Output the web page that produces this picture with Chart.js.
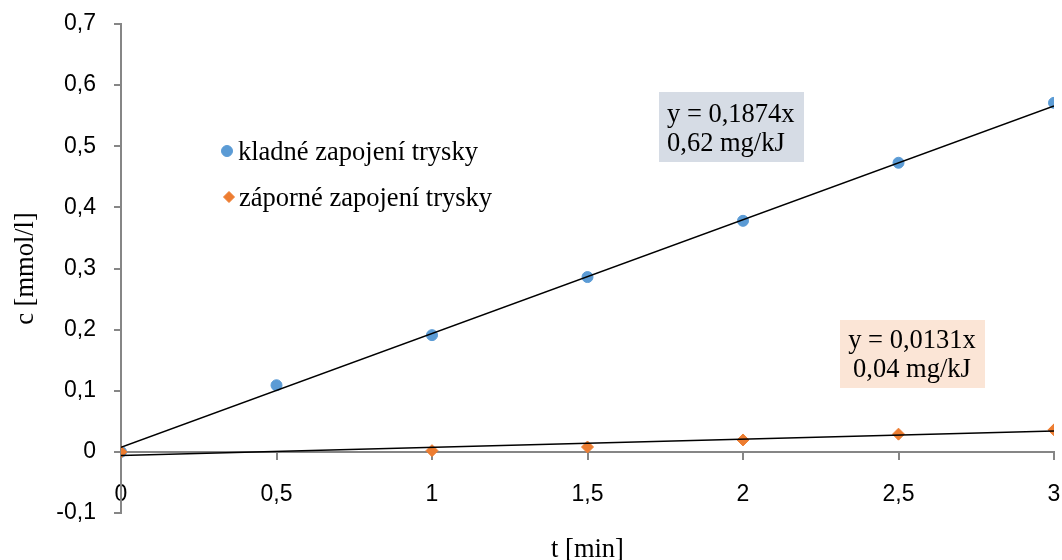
<!DOCTYPE html>
<html>
<head>
<meta charset="utf-8">
<script src="https://cdn.jsdelivr.net/npm/chart.js@4.4.1/dist/chart.umd.min.js"></script>
<style>
  html, body { margin: 0; padding: 0; background: #ffffff; }
  #wrap { width: 1062px; height: 560px; position: relative; }
</style>
</head>
<body>
<div id="wrap"><canvas id="c"></canvas></div>
<script>
// ---- data ----
const timeValues = [0, 0.5, 1, 1.5, 2, 2.5, 3];
const positiveValues = [0, 0.109, 0.191, 0.286, 0.378, 0.473, 0.571];
const negativeValues = [0, null, 0.002, 0.008, 0.0195, 0.029, 0.036];
const trendX = [0, 3];
const positiveTrend = [0.0075, 0.566];
const negativeTrend = [-0.006, 0.034];
const seriesNames = ['kladné zapojení trysky', 'záporné zapojení trysky'];
const positiveLabel = ['y = 0,1874x', '0,62 mg/kJ'];
const negativeLabel = ['y = 0,0131x', '0,04 mg/kJ'];
const xAxisTitle = 't [min]';
const yAxisTitle = 'c [mmol/l]';
const xMin = 0, xMax = 3, xStep = 0.5;
const yMin = -0.1, yMax = 0.7, yStep = 0.1;

const BLUE = '#5B9BD5';
const ORANGE = '#ED7D31';
const AXIS = '#868686';
const SERIF = '"Liberation Serif", "Times New Roman", serif';
const SANS = '"Liberation Sans", Arial, sans-serif';

function toPoints(xs, ys) {
  return xs.map((x, i) => ({ x: x, y: ys[i] }));
}
function fmt(v) {
  const r = Math.round(v * 10) / 10;
  return String(r).replace('.', ',');
}

const overlayPlugin = {
  id: 'overlay',
  afterDatasetsDraw(chart) {
    const ctx = chart.ctx;
    ctx.save();
    // legend (inside plot)
    const legendItems = [
      { name: seriesNames[0], style: 'circle', color: BLUE, r: 5.5, x: 227, y: 151, tx: 238, ty: 160 },
      { name: seriesNames[1], style: 'rectRot', color: ORANGE, r: 5.5, x: 229, y: 197, tx: 239, ty: 206 }
    ];
    legendItems.forEach(it => {
      ctx.fillStyle = it.color;
      ctx.strokeStyle = it.color;
      ctx.lineWidth = 1;
      Chart.helpers.drawPoint(ctx, { pointStyle: it.style, radius: it.r, borderWidth: 1, rotation: 0 }, it.x, it.y);
      ctx.fillStyle = '#000';
      ctx.font = '26.5px ' + SERIF;
      ctx.textAlign = 'left';
      ctx.textBaseline = 'alphabetic';
      ctx.fillText(it.name, it.tx, it.ty);
    });
    // trendline labels
    ctx.fillStyle = '#D6DCE5';
    ctx.fillRect(659, 92, 145, 70);
    ctx.fillStyle = '#FBE5D6';
    ctx.fillRect(840, 320, 145, 68);
    ctx.fillStyle = '#000';
    ctx.font = '26.5px ' + SERIF;
    ctx.textAlign = 'left';
    ctx.fillText(positiveLabel[0], 667, 122);
    ctx.fillText(positiveLabel[1], 667, 151);
    ctx.textAlign = 'center';
    ctx.fillText(negativeLabel[0], 912, 348);
    ctx.fillText(negativeLabel[1], 912, 377);
    ctx.restore();
  },
  afterDraw(chart) {
    const ctx = chart.ctx;
    const area = chart.chartArea;
    ctx.save();
    ctx.fillStyle = '#000';
    ctx.font = '26.5px ' + SERIF;
    ctx.textAlign = 'center';
    ctx.textBaseline = 'middle';
    ctx.fillText(xAxisTitle, (area.left + area.right) / 2, 550);
    ctx.translate(26, (area.top + area.bottom) / 2);
    ctx.rotate(-Math.PI / 2);
    ctx.fillText(yAxisTitle, 0, 0);
    ctx.restore();
  }
};

new Chart(document.getElementById('c'), {
  type: 'scatter',
  data: {
    datasets: [
      {
        label: seriesNames[0] + ' trend',
        type: 'line',
        data: toPoints(trendX, positiveTrend),
        borderColor: '#000',
        borderWidth: 1.5,
        pointRadius: 0,
        fill: false,
        order: 0
      },
      {
        label: seriesNames[1] + ' trend',
        type: 'line',
        data: toPoints(trendX, negativeTrend),
        borderColor: '#000',
        borderWidth: 1.5,
        pointRadius: 0,
        fill: false,
        order: 0
      },
      {
        label: seriesNames[1],
        data: toPoints(timeValues, negativeValues),
        pointStyle: 'rectRot',
        pointRadius: 6,
        backgroundColor: ORANGE,
        borderColor: ORANGE,
        borderWidth: 1,
        order: 1
      },
      {
        label: seriesNames[0],
        data: toPoints(timeValues, positiveValues),
        pointStyle: 'circle',
        pointRadius: 5.5,
        backgroundColor: BLUE,
        borderColor: BLUE,
        borderWidth: 1,
        order: 2
      }
    ]
  },
  options: {
    responsive: true,
    maintainAspectRatio: false,
    animation: false,
    devicePixelRatio: 1,
    layout: { padding: { left: 0, right: 8, top: 24, bottom: 47 } },
    plugins: {
      legend: { display: false },
      tooltip: { enabled: false }
    },
    scales: {
      x: {
        type: 'linear',
        position: { y: 0 },
        min: xMin,
        max: xMax,
        afterFit: (scale) => { scale.paddingLeft = 0; scale.paddingRight = 0; },
        border: { display: true, color: AXIS, width: 2 },
        grid: { display: true, drawOnChartArea: false, drawTicks: true, tickLength: 7, color: AXIS, lineWidth: 2 },
        ticks: {
          stepSize: xStep,
          color: '#000',
          font: { family: SANS, size: 23 },
          padding: 22,
          maxRotation: 0,
          callback: (v) => fmt(v)
        }
      },
      y: {
        type: 'linear',
        position: 'left',
        min: yMin,
        max: yMax,
        afterFit: (scale) => { scale.width = 121; scale.paddingTop = 0; scale.paddingBottom = 0; },
        border: { display: true, color: AXIS, width: 2 },
        grid: { display: true, drawOnChartArea: false, drawTicks: true, tickLength: 7, color: AXIS, lineWidth: 2 },
        ticks: {
          stepSize: yStep,
          color: '#000',
          font: { family: SANS, size: 23 },
          padding: 18,
          callback: (v) => fmt(v)
        }
      }
    }
  },
  plugins: [overlayPlugin]
});
</script>
</body>
</html>
